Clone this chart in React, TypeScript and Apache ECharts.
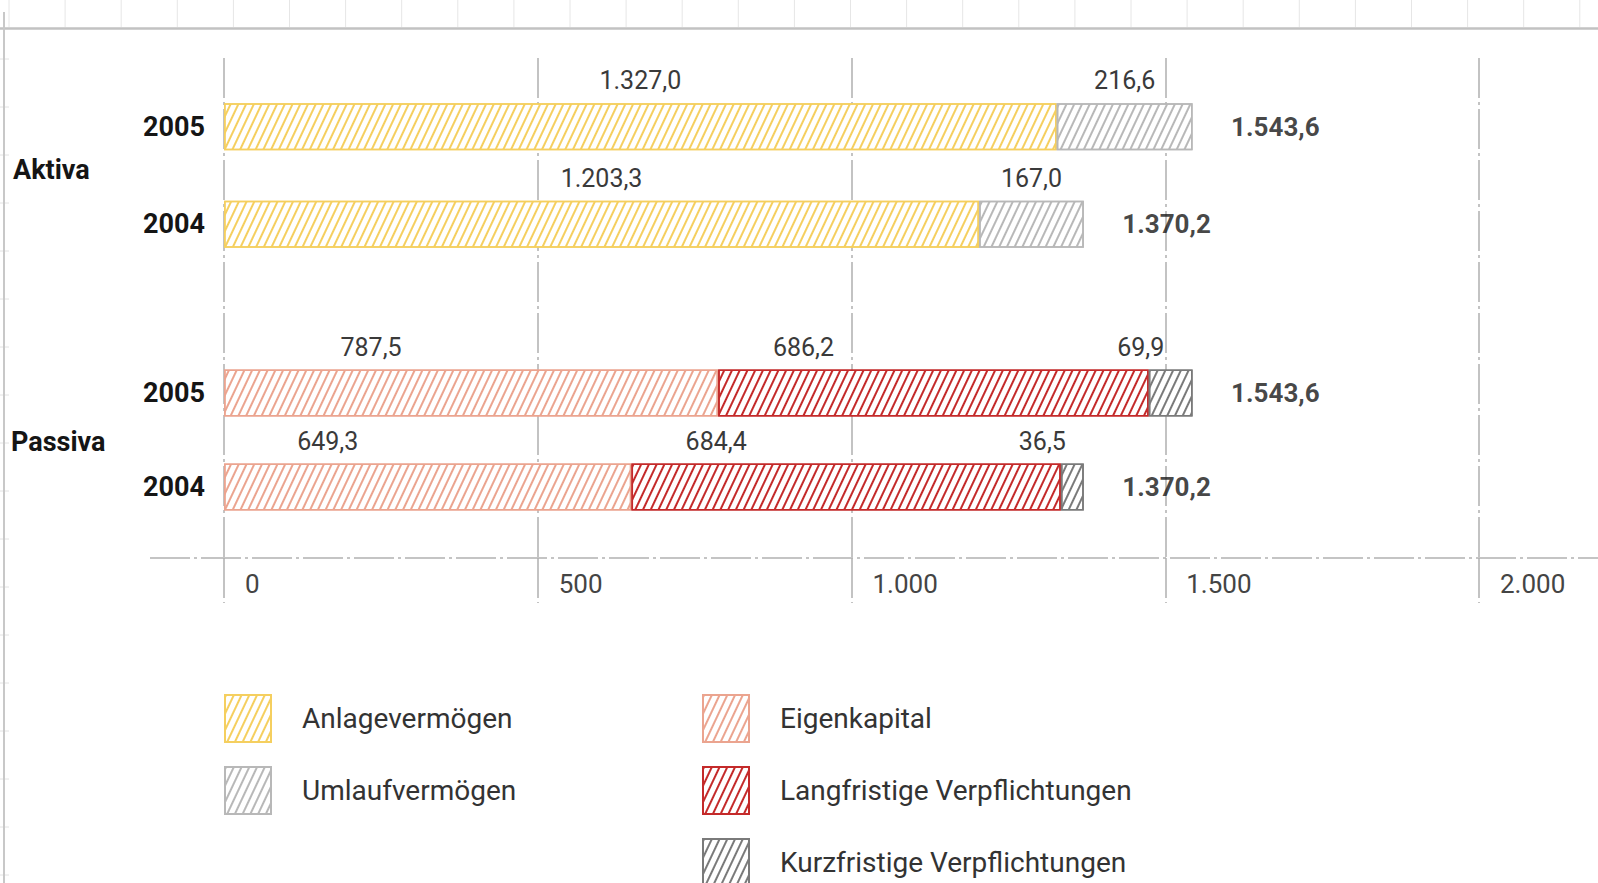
import React, { useEffect, useRef } from 'react';
import * as echarts from 'echarts';

// ---------- data ----------
const aktivaYears = ['2005', '2004'];
const passivaYears = ['2005', '2004'];
const anlagevermoegen = [1327.0, 1203.3];
const umlaufvermoegen = [216.6, 167.0];
const eigenkapital = [787.5, 649.3];
const langfristigeVerpflichtungen = [686.2, 684.4];
const kurzfristigeVerpflichtungen = [69.9, 36.5];
const aktivaSumme = [1543.6, 1370.2];
const passivaSumme = [1543.6, 1370.2];
const groupLabels = ['Aktiva', 'Passiva'];
const seriesNames = [
  'Anlagevermögen',
  'Umlaufvermögen',
  'Eigenkapital',
  'Langfristige Verpflichtungen',
  'Kurzfristige Verpflichtungen',
];
const xMin = 0;
const xMax = 2000;
const xStep = 500;

// ---------- styles ----------
const FONT = "Roboto, 'DejaVu Sans', sans-serif";
const COLORS = ['#f5cf5f', '#b8b8b8', '#eba48f', '#c42a2a', '#7a7a7a'];
const DASH_DOT = [40, 4, 3, 4];

const fmt1 = (v: number) => {
  const [i, d] = v.toFixed(1).split('.');
  return `${i.replace(/\B(?=(\d{3})+(?!\d))/g, '.')},${d}`;
};
const fmtInt = (v: number) => String(v).replace(/\B(?=(\d{3})+(?!\d))/g, '.');

const stripe = (color: string) => ({
  symbol: 'rect',
  symbolSize: 1,
  color,
  dashArrayX: [1, 0],
  dashArrayY: [2, 5],
  rotation: -1.13,
});

const GRID_LEFT = 224;
const GRID_WIDTH = 1255;

function buildOption() {
  const segLabel = (offsetX: number) => ({
    show: true,
    position: 'top',
    distance: 10,
    offset: [offsetX, 0],
    fontFamily: FONT,
    fontSize: 25,
    color: '#3a3a3a',
    formatter: (p: any) => fmt1(p.value),
  });

  const barSeries = (
    idx: number,
    data: number[],
    axis: number,
    stack: string,
    offsetX: number
  ) => ({
    name: seriesNames[idx],
    type: 'bar',
    xAxisIndex: axis,
    yAxisIndex: axis,
    stack,
    barWidth: 47,
    data,
    itemStyle: {
      color: '#ffffff',
      borderColor: COLORS[idx],
      borderWidth: 1.6,
      decal: stripe(COLORS[idx]),
    },
    label: segLabel(offsetX),
    emphasis: { disabled: true },
  });

  const totalSeries = (sums: number[], years: string[], axis: number) => ({
    type: 'scatter',
    xAxisIndex: axis,
    yAxisIndex: axis,
    symbolSize: 1,
    itemStyle: { color: 'rgba(0,0,0,0)' },
    silent: true,
    data: sums.map((v, i) => [v, years[i]]),
    label: {
      show: true,
      position: 'right',
      distance: 38,
      fontFamily: FONT,
      fontSize: 26,
      fontWeight: 'bold',
      color: '#151515',
      formatter: (p: any) => fmt1(p.value[0]),
    },
  });

  const hiddenX = (gridIndex: number) => ({
    type: 'value',
    gridIndex,
    min: xMin,
    max: xMax,
    interval: xStep,
    show: false,
  });

  const catY = (gridIndex: number, data: string[]) => ({
    type: 'category',
    gridIndex,
    data,
    inverse: true,
    axisLine: { show: false },
    axisTick: { show: false },
    axisLabel: {
      margin: 19,
      fontFamily: FONT,
      fontSize: 27,
      fontWeight: 'bold',
      color: '#151515',
    },
  });

  const graphics: any[] = [];
  // faint page grid at the top
  for (let x = 9; x < 1598; x += 56.1) {
    graphics.push({
      type: 'line',
      shape: { x1: x, y1: 0, x2: x, y2: 27 },
      style: { stroke: '#e6e6e6', lineWidth: 1 },
      silent: true,
    });
  }
  // faint ticks on the left frame
  for (let y = 59; y < 883; y += 48) {
    graphics.push({
      type: 'line',
      shape: { x1: 0, y1: y, x2: 9, y2: y },
      style: { stroke: '#e2e2e2', lineWidth: 1 },
      silent: true,
    });
  }
  graphics.push(
    {
      type: 'line',
      shape: { x1: 0, y1: 28.5, x2: 1598, y2: 28.5 },
      style: { stroke: '#c2c2c2', lineWidth: 2.5 },
      silent: true,
    },
    {
      type: 'line',
      shape: { x1: 4, y1: 12, x2: 4, y2: 883 },
      style: { stroke: '#c8c8c8', lineWidth: 2 },
      silent: true,
    },
    {
      type: 'line',
      shape: { x1: 150, y1: 558, x2: 1598, y2: 558 },
      style: { stroke: '#c4c4c4', lineWidth: 2, lineDash: DASH_DOT },
      silent: true,
    },
    {
      type: 'text',
      left: 13,
      top: 156,
      style: {
        text: groupLabels[0],
        fontFamily: FONT,
        fontSize: 27,
        fontWeight: 'bold',
        fill: '#151515',
      },
    },
    {
      type: 'text',
      left: 11,
      top: 428,
      style: {
        text: groupLabels[1],
        fontFamily: FONT,
        fontSize: 27,
        fontWeight: 'bold',
        fill: '#151515',
      },
    }
  );

  const legendBase = {
    orient: 'vertical',
    top: 694,
    height: 400,
    padding: 0,
    itemWidth: 46,
    itemHeight: 47,
    itemGap: 23,
    icon: 'rect',
    selectedMode: false,
    textStyle: {
      fontFamily: FONT,
      fontSize: 28,
      color: '#333333',
      padding: [5, 0, 0, 26],
    },
  };

  return {
    animation: false,
    backgroundColor: '#ffffff',
    textStyle: { fontFamily: FONT },
    grid: [
      { left: GRID_LEFT, width: GRID_WIDTH, top: 58, height: 500 },
      { left: GRID_LEFT, width: GRID_WIDTH, top: 78, height: 195 },
      { left: GRID_LEFT, width: GRID_WIDTH, top: 346, height: 188 },
    ],
    xAxis: [
      {
        type: 'value',
        gridIndex: 0,
        min: xMin,
        max: xMax,
        interval: xStep,
        axisLine: { show: false },
        axisTick: {
          show: true,
          length: 45,
          lineStyle: { color: '#b0b0b0', width: 1.5, type: DASH_DOT },
        },
        splitLine: {
          show: true,
          lineStyle: { color: '#b0b0b0', width: 1.5, type: DASH_DOT },
        },
        axisLabel: {
          margin: 13,
          align: 'left',
          padding: [0, 0, 0, 21],
          fontFamily: FONT,
          fontSize: 26,
          color: '#444444',
          formatter: (v: number) => fmtInt(v),
        },
      },
      hiddenX(1),
      hiddenX(2),
    ],
    yAxis: [
      { type: 'value', gridIndex: 0, min: 0, max: 1, show: false },
      catY(1, aktivaYears),
      catY(2, passivaYears),
    ],
    legend: [
      { ...legendBase, left: 224, data: [seriesNames[0], seriesNames[1]] },
      { ...legendBase, left: 702, data: [seriesNames[2], seriesNames[3], seriesNames[4]] },
    ],
    series: [
      barSeries(0, anlagevermoegen, 1, 'aktiva', 0),
      barSeries(1, umlaufvermoegen, 1, 'aktiva', 0),
      barSeries(2, eigenkapital, 2, 'passiva', -100),
      barSeries(3, langfristigeVerpflichtungen, 2, 'passiva', -130),
      barSeries(4, kurzfristigeVerpflichtungen, 2, 'passiva', -30),
      totalSeries(aktivaSumme, aktivaYears, 1),
      totalSeries(passivaSumme, passivaYears, 2),
    ],
    graphic: graphics,
  };
}

export default function App() {
  const ref = useRef<HTMLDivElement>(null);
  useEffect(() => {
    if (!ref.current) return;
    const chart = echarts.init(ref.current, undefined, { renderer: 'svg' });
    chart.setOption(buildOption() as any);
    return () => chart.dispose();
  }, []);
  return (
    <div
      ref={ref}
      style={{ position: 'fixed', left: 0, top: 0, width: 1598, height: 883 }}
    />
  );
}
